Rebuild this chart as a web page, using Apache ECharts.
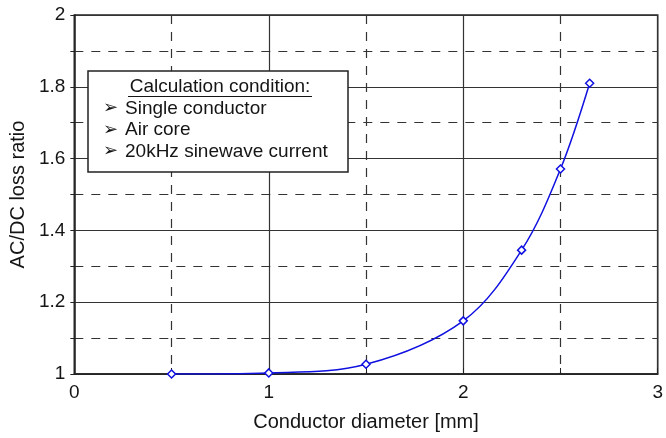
<!DOCTYPE html>
<html><head><meta charset="utf-8">
<script src="https://cdn.jsdelivr.net/npm/echarts@6/dist/echarts.min.js"></script>
<style>html,body{margin:0;padding:0;background:#fff}#c{width:666px;height:438px}</style>
</head><body><div id="c"></div>
<script>
var diameters = [0.5, 1.0, 1.5, 2.0, 2.3, 2.5, 2.65];
var lossRatio = [1.0, 1.003, 1.027, 1.148, 1.345, 1.571, 1.81];
var xTitle = 'Conductor diameter [mm]';
var yTitle = 'AC/DC loss ratio';
var noteTitle = 'Calculation condition:';
var noteLines = ['Single conductor', 'Air core', '20kHz sinewave current'];

var FONT = '"Liberation Sans", Arial, sans-serif';
var chart = echarts.init(document.getElementById('c'), null, {renderer: 'canvas'});
var gridCol = '#333';
var TXT = '#151515';
var graphics = [
  {type: 'rect', shape: {x: 88, y: 71, width: 260, height: 101}, style: {fill: '#fff', stroke: '#222', lineWidth: 1.5}, z: 100},
  {type: 'text', x: 220, y: 86.5, style: {text: noteTitle, fill: TXT, font: '19px ' + FONT, textAlign: 'center', textVerticalAlign: 'middle'}, z: 101},
  {type: 'line', shape: {x1: 128, y1: 96.5, x2: 312, y2: 96.5}, style: {stroke: TXT, lineWidth: 1}, z: 101}
];
noteLines.forEach(function (t, i) {
  graphics.push({type: 'text', x: 103, y: 108.5 + i * 21.5, style: {text: '\u27A2', fill: TXT, font: 'bold 18px "DejaVu Sans", sans-serif', textVerticalAlign: 'middle'}, z: 101});
  graphics.push({type: 'text', x: 125, y: 108.5 + i * 21.5, style: {text: t, fill: TXT, font: '19px ' + FONT, textVerticalAlign: 'middle'}, z: 101});
});

chart.setOption({
  animation: false,
  grid: {left: 71, right: 7, top: 15, bottom: 64, show: true, borderColor: '#222', borderWidth: 1.5},
  xAxis: {
    type: 'value', min: 0, max: 3, interval: 1,
    name: xTitle, nameLocation: 'middle', nameGap: 38,
    nameTextStyle: {fontFamily: FONT, fontSize: 20, color: TXT},
    axisLine: {lineStyle: {color: '#222', width: 1.5}},
    axisTick: {show: true, inside: true, length: 6, lineStyle: {color: '#222'}},
    minorTick: {show: true, splitNumber: 2, length: 6, lineStyle: {color: '#222'}},
    axisLabel: {fontFamily: FONT, fontSize: 19, color: TXT, margin: 9},
    splitLine: {show: true, lineStyle: {color: gridCol, width: 1.2}},
    minorSplitLine: {show: true, lineStyle: {color: gridCol, width: 1.2, type: [9, 8]}}
  },
  yAxis: {
    type: 'value', min: 1, max: 2, interval: 0.2,
    name: yTitle, nameLocation: 'middle', nameGap: 43, nameRotate: 90,
    nameTextStyle: {fontFamily: FONT, fontSize: 20, color: TXT},
    axisLine: {show: true, lineStyle: {color: '#222', width: 1.5}},
    axisTick: {show: true, inside: false, length: 4, lineStyle: {color: '#222'}},
    minorTick: {show: true, splitNumber: 2, length: 4, lineStyle: {color: '#222'}},
    axisLabel: {fontFamily: FONT, fontSize: 19, color: TXT, margin: 9,
      formatter: function (v) { return String(Math.round(v * 10) / 10); }},
    splitLine: {show: true, lineStyle: {color: gridCol, width: 1.2}},
    minorSplitLine: {show: true, lineStyle: {color: gridCol, width: 1.2, type: [9, 8]}}
  },
  series: [{
    type: 'line',
    data: diameters.map(function (d, i) { return [d, lossRatio[i]]; }),
    smooth: 0.35,
    symbol: 'diamond', symbolSize: 8,
    itemStyle: {color: '#fff', borderColor: '#1010e0', borderWidth: 1.5},
    lineStyle: {color: '#1010e0', width: 1.5},
    z: 5
  }],
  graphic: graphics
});
</script></body></html>
